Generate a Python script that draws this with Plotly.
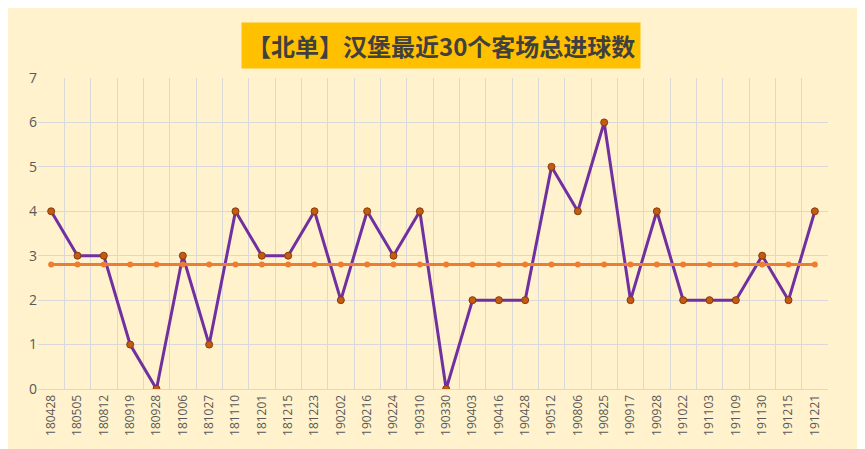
import plotly.graph_objects as go

labels = ["180428","180505","180812","180919","180928","181006","181027","181110","181201","181215",
          "181223","190202","190216","190224","190310","190330","190403","190416","190428","190512",
          "190806","190825","190917","190928","191022","191103","191109","191130","191215","191221"]
goals = [4,3,3,1,0,3,1,4,3,3,4,2,4,3,4,0,2,2,2,5,4,6,2,4,2,2,2,3,2,4]
avg = [round(sum(goals)/len(goals), 2)] * len(goals)
xs = list(range(len(labels)))

fig = go.Figure()
fig.add_trace(go.Scatter(x=xs, y=goals, mode="lines+markers",
    line=dict(color="#7030A0", width=3),
    marker=dict(size=7, color="#C55A11", line=dict(color="#843C0C", width=1))))
fig.add_trace(go.Scatter(x=xs, y=avg, mode="lines+markers",
    line=dict(color="#ED7D31", width=3),
    marker=dict(size=6, color="#ED7D31")))

fig.update_layout(
    width=865, height=449, paper_bgcolor="#FFF2CC", plot_bgcolor="#FFF2CC",
    margin=dict(l=30, r=45, t=70, b=68, autoexpand=False), showlegend=False,
    font=dict(family="Noto Sans CJK SC, Open Sans", color="#595959"),
)
fig.add_annotation(text="<b>【北单】汉堡最近30个客场总进球数</b>", xref="paper", yref="paper",
    x=0.51, y=1.0, yshift=33, yanchor="middle", showarrow=False,
    bgcolor="#FFC000", font=dict(size=24, color="#404040"), borderpad=5)
fig.update_xaxes(range=[-0.5, 29.5], tickvals=xs, ticktext=labels, tickangle=-90,
    showgrid=False, tickfont=dict(size=12, family="Open Sans"),
    minor=dict(tick0=-0.5, dtick=1, showgrid=True, gridcolor="#D9D9D9", gridwidth=1),
    showline=True, linecolor="#D9D9D9", zeroline=False)
fig.update_yaxes(range=[0, 7], dtick=1, gridcolor="#D9D9D9", zeroline=False,
    tickfont=dict(size=14, family="Open Sans"), ticklen=0)
fig.write_html("out.html")
